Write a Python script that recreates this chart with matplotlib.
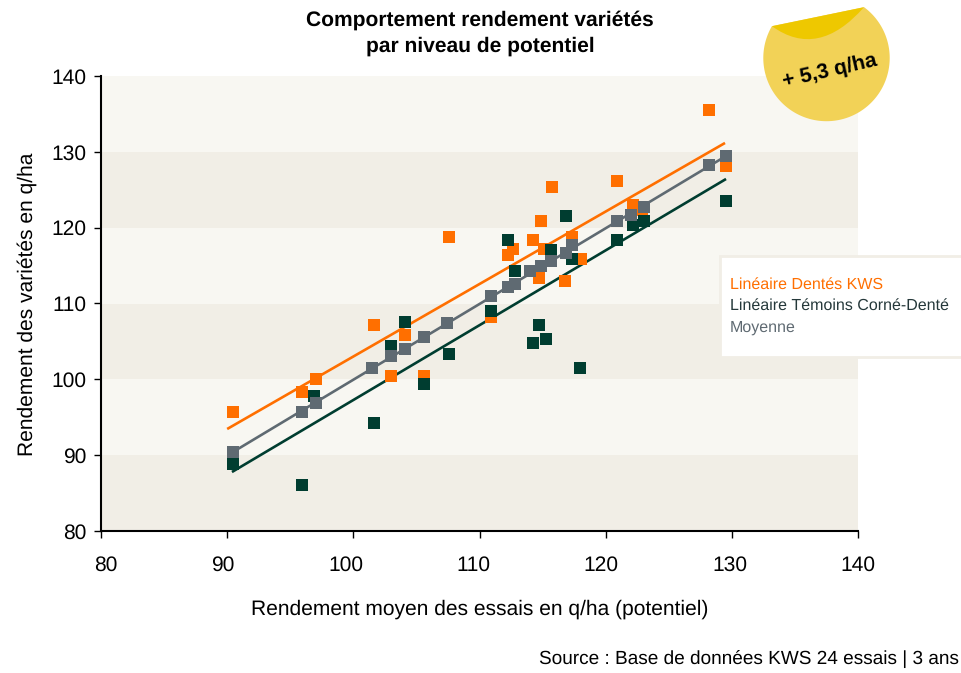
import numpy as np
import matplotlib
matplotlib.use("Agg")
import matplotlib.pyplot as plt
from matplotlib.patches import Polygon, PathPatch, Rectangle
from matplotlib.path import Path
from matplotlib.transforms import Affine2D, ScaledTranslation

plt.rcParams['font.family'] = ['Liberation Sans', 'DejaVu Sans']
plt.rcParams['text.hinting'] = 'none'
plt.rcParams['text.hinting_factor'] = 1

# Values
moy_x = [90.46, 95.93, 97.04, 101.5, 103.0, 104.09, 105.6, 107.4, 110.9, 112.26, 112.81, 114.0,
         114.87, 115.67, 116.86, 117.33, 120.9, 122.0, 123.04, 128.19, 129.54]
moy_y = [90.42, 95.69, 96.88, 101.5, 103.08, 104.0, 105.58, 107.43, 110.99, 112.18, 112.57, 114.29,
         114.95, 115.6, 116.66, 117.72, 120.88, 121.67, 122.73, 128.27, 129.45]

dentes_x = [90.46, 95.93, 97.04, 101.6, 103.0, 104.09, 105.6, 107.6, 110.9, 112.26, 112.65, 114.24,
            114.71, 114.87, 115.1, 115.75, 116.78, 117.33, 118.04, 120.9, 122.16, 122.88, 128.19, 129.54]
dentes_y = [95.69, 98.33, 100.04, 107.17, 100.44, 105.85, 100.44, 118.77, 108.22, 116.4, 117.19, 118.38,
            113.36, 120.88, 117.19, 125.36, 112.97, 118.77, 115.87, 126.16, 122.99, 122.33, 135.52, 128.13]

temoins_x = [90.46, 95.93, 96.9, 101.6, 103.0, 104.09, 105.6, 107.6, 110.9, 112.26, 112.81, 114.24,
             114.71, 115.27, 115.67, 116.86, 117.33, 117.96, 120.9, 122.16, 123.04, 129.54]
temoins_y = [88.84, 86.07, 97.8, 94.24, 104.4, 107.56, 99.39, 103.34, 109.01, 118.38, 114.29, 104.79,
             107.17, 105.32, 117.06, 121.54, 115.87, 101.5, 118.38, 120.35, 120.88, 123.52]

# Trend lines (end points)
ligne_dentes_x = [90.0, 129.46]
ligne_dentes_y = [93.45, 131.17]
ligne_moy_x = [90.46, 129.54]
ligne_moy_y = [90.42, 129.45]
ligne_temoins_x = [90.38, 129.54]
ligne_temoins_y = [87.78, 126.42]

ticks_x = [80, 90, 100, 110, 120, 130, 140]
ticks_y = [80, 90, 100, 110, 120, 130, 140]
bandes = [80, 90, 100, 110, 120, 130, 140]

ORANGE = '#ff6f00'
VERT = '#003d30'
GRIS = '#5f6a72'
W, H = 961, 673

fig = plt.figure(figsize=(W / 100, H / 100), dpi=100, facecolor='white')
ax = fig.add_axes([101 / W, 1 - 531 / H, 757 / W, 455 / H])

# Alternating background bands
for i in range(len(bandes) - 1):
    couleur = '#f1eee6' if i % 2 == 0 else '#f8f7f2'
    ax.axhspan(bandes[i], bandes[i + 1], color=couleur, lw=0, zorder=0)

ax.plot(ligne_dentes_x, ligne_dentes_y, color=ORANGE, lw=1.9, zorder=2, solid_capstyle='butt')
ax.plot(ligne_temoins_x, ligne_temoins_y, color=VERT, lw=1.9, zorder=2, solid_capstyle='butt')
ax.plot(ligne_moy_x, ligne_moy_y, color=GRIS, lw=1.9, zorder=2, solid_capstyle='butt')

ax.plot(dentes_x, dentes_y, ls='none', marker='s', ms=8.64, mew=0, color=ORANGE, zorder=3)
ax.plot(temoins_x, temoins_y, ls='none', marker='s', ms=8.64, mew=0, color=VERT, zorder=4)
ax.plot(moy_x, moy_y, ls='none', marker='s', ms=8.64, mew=0, color=GRIS, zorder=5)

ax.set_xlim(80, 140)
ax.set_ylim(80, 140)
ax.set_xticks(ticks_x)
ax.set_yticks(ticks_y)
ax.tick_params(labelsize=15.4, length=5, width=1, colors='black')
ax.tick_params(axis='y', pad=5.5)
ax.tick_params(axis='x', pad=12.5)
ax.spines['top'].set_visible(False)
ax.spines['right'].set_visible(False)
ax.spines['left'].set_linewidth(1.5)
ax.spines['bottom'].set_linewidth(1.5)

# The x tick labels sit a little off their ticks in the original
decalages = [5, -4.5, -7.5, -6.5, -4.5, -2, 0]
for label, d in zip(ax.get_xticklabels(), decalages):
    label.set_transform(label.get_transform() + ScaledTranslation(d / 100, 0, fig.dpi_scale_trans))

# Pixel coordinates for the decorations, origin at the top left
px = Affine2D().scale(1, -1).translate(0, H)

fig.text(480 / W, 1 - 33 / H, 'Comportement rendement variétés\npar niveau de potentiel',
         ha='center', va='center', fontsize=15.45, fontweight='bold', linespacing=1.42)
fig.text(480 / W, 1 - 609 / H, 'Rendement moyen des essais en q/ha (potentiel)',
         ha='center', va='center', fontsize=15.0)
fig.text(27 / W, 1 - 304.5 / H, 'Rendement des variétés en q/ha', ha='center', va='center',
         rotation=90, fontsize=15.3)
fig.text(959 / W, 1 - 660 / H, 'Source : Base de données KWS 24 essais | 3 ans',
         ha='right', va='center', fontsize=13.65)

# Legend panel
fig.add_artist(Rectangle((720, 256), 245, 101, transform=px, facecolor='white',
                         edgecolor='#f1eee6', lw=2, zorder=10, clip_on=False))
fig.text(730 / W, 1 - 285 / H, 'Linéaire Dentés KWS', color=ORANGE, fontsize=11.8, va='center', zorder=11)
fig.text(730 / W, 1 - 306 / H, 'Linéaire Témoins Corné-Denté', color='#25383a', fontsize=11.8, va='center', zorder=11)
fig.text(730 / W, 1 - 328 / H, 'Moyenne', color=GRIS, fontsize=11.8, va='center', zorder=11)

# Badge: circle cut by a chord, with a darker fold on top
cx, cy, r = 826.5, 58, 63.2
p1 = np.array([772, 26.2])
p2 = np.array([864, 7.2])
a1 = np.arctan2(p1[1] - cy, p1[0] - cx)
a2 = np.arctan2(p2[1] - cy, p2[0] - cx)
angles = np.linspace(a2, a1 + 2 * np.pi * (a1 < a2), 200)
contour = np.column_stack([cx + r * np.cos(angles), cy + r * np.sin(angles)])
fig.add_artist(Polygon(contour, closed=True, transform=px, facecolor='#f2d257', edgecolor='none', zorder=12))
pli = Path([p1, (818, 59.5), p2, p1], [Path.MOVETO, Path.CURVE3, Path.CURVE3, Path.CLOSEPOLY])
fig.add_artist(PathPatch(pli, transform=px, facecolor='#eec800', edgecolor='none', zorder=13))
fig.text(829.5 / W, 1 - 71 / H, '+ 5,3 q/ha', ha='center', va='center', rotation=13,
         fontsize=15.2, fontweight='bold', color='black', zorder=14)

fig.savefig('out.png', dpi=100)
